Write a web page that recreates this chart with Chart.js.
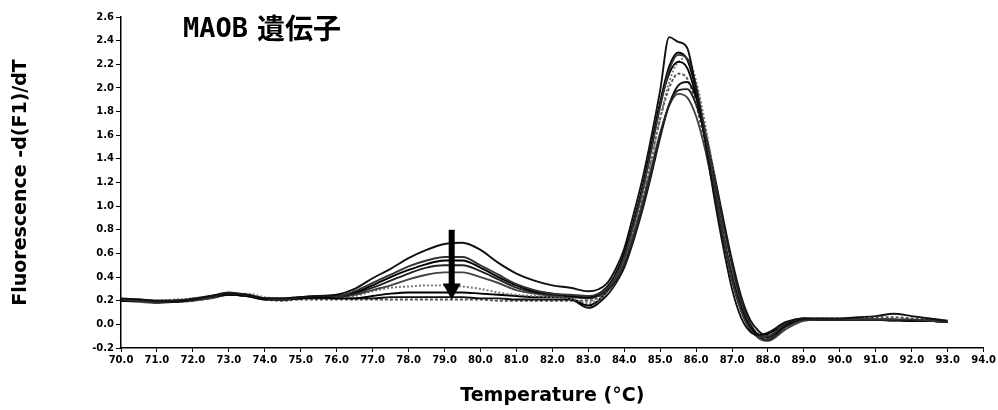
<!DOCTYPE html>
<html>
<head>
<meta charset="utf-8">
<script src="https://cdn.jsdelivr.net/npm/chart.js@4.4.1/dist/chart.umd.min.js"></script>
<style>
  html, body { margin: 0; padding: 0; background: #fff; }
</style>
</head>
<body>
<canvas id="meltChart" width="998" height="410"></canvas>
<script>
// melt curve temperatures (°C)
const temps = [70, 70.5, 71, 71.5, 72, 72.5, 73, 73.5, 74, 74.5, 75, 75.5, 76,
  76.5, 77, 77.5, 78, 78.5, 79, 79.5, 80, 80.5, 81, 81.5, 82, 82.5, 83,
  83.5, 83.75, 84, 84.25, 84.5, 84.75, 85, 85.25, 85.5, 85.75, 86, 86.25, 86.5, 86.75,
  87, 87.25, 87.5, 87.75, 88,
  88.5, 89, 89.5, 90, 90.5, 91, 91.5, 92, 92.5, 93];

// -d(F1)/dT for each sample
const sample1 = [0.22,0.21,0.20,0.20,0.21,0.24,0.26,0.25,0.22,0.22,0.23,0.24,0.25,
  0.30,0.39,0.47,0.56,0.63,0.68,0.69,0.63,0.52,0.43,0.37,0.33,0.31,0.28,
  0.34,0.46,0.64,0.92,1.22,1.58,1.98,2.43,2.39,2.34,1.98,1.55,1.08,0.66,0.30,0.06,-0.06,-0.09,-0.07,
  0.02,0.05,0.05,0.05,0.06,0.07,0.09,0.07,0.05,0.03];
const sample2 = [0.21,0.20,0.19,0.20,0.21,0.23,0.26,0.25,0.22,0.21,0.23,0.24,0.24,
  0.28,0.35,0.42,0.49,0.54,0.57,0.57,0.50,0.42,0.34,0.29,0.26,0.25,0.24,
  0.30,0.40,0.57,0.83,1.12,1.47,1.84,2.15,2.28,2.25,2.02,1.62,1.18,0.76,0.38,0.12,-0.04,-0.10,-0.10,
  0.01,0.05,0.04,0.04,0.04,0.04,0.04,0.04,0.03,0.02];
const sample3 = [0.20,0.20,0.19,0.19,0.21,0.23,0.25,0.24,0.21,0.21,0.22,0.23,0.24,
  0.27,0.33,0.40,0.46,0.51,0.54,0.54,0.48,0.40,0.33,0.28,0.26,0.24,0.23,
  0.31,0.42,0.60,0.86,1.15,1.50,1.86,2.12,2.22,2.17,1.93,1.58,1.16,0.76,0.40,0.14,-0.02,-0.09,-0.11,
  0.00,0.05,0.04,0.04,0.04,0.04,0.04,0.03,0.03,0.02];
const sample4 = [0.21,0.21,0.20,0.20,0.22,0.24,0.27,0.25,0.22,0.22,0.23,0.23,0.23,
  0.26,0.31,0.37,0.43,0.48,0.50,0.50,0.45,0.38,0.31,0.27,0.25,0.24,0.22,
  0.28,0.36,0.50,0.72,0.98,1.28,1.60,1.86,1.98,1.99,1.86,1.60,1.24,0.86,0.50,0.20,0.01,-0.10,-0.13,
  -0.02,0.04,0.04,0.04,0.04,0.04,0.03,0.03,0.03,0.02];
const sample5 = [0.20,0.19,0.18,0.19,0.20,0.22,0.25,0.24,0.21,0.21,0.22,0.23,0.23,
  0.25,0.29,0.33,0.38,0.42,0.44,0.44,0.40,0.35,0.29,0.26,0.24,0.23,0.22,
  0.29,0.38,0.53,0.76,1.02,1.32,1.62,1.85,1.95,1.92,1.76,1.48,1.12,0.76,0.42,0.16,-0.02,-0.12,-0.14,
  -0.04,0.03,0.04,0.04,0.04,0.04,0.04,0.03,0.03,0.02];
const sample6 = [0.22,0.21,0.20,0.21,0.22,0.24,0.26,0.26,0.23,0.22,0.23,0.24,0.23,
  0.24,0.28,0.31,0.32,0.33,0.33,0.32,0.30,0.27,0.25,0.24,0.23,0.22,0.18,
  0.26,0.36,0.52,0.76,1.05,1.38,1.74,2.05,2.22,2.25,2.06,1.70,1.26,0.84,0.46,0.18,0.00,-0.08,-0.10,
  0.01,0.05,0.05,0.04,0.04,0.04,0.04,0.04,0.03,0.02];
const sample7 = [0.21,0.20,0.19,0.20,0.21,0.23,0.25,0.24,0.22,0.21,0.22,0.23,0.22,
  0.22,0.24,0.26,0.27,0.27,0.27,0.27,0.26,0.25,0.24,0.23,0.23,0.22,0.16,
  0.27,0.40,0.58,0.84,1.14,1.50,1.88,2.18,2.30,2.24,1.98,1.60,1.16,0.74,0.38,0.12,-0.04,-0.10,-0.08,
  0.00,0.04,0.04,0.04,0.04,0.04,0.04,0.03,0.03,0.02];
const sample8 = [0.20,0.20,0.19,0.20,0.21,0.23,0.26,0.25,0.22,0.21,0.22,0.22,0.22,
  0.22,0.22,0.23,0.23,0.23,0.23,0.23,0.22,0.22,0.21,0.21,0.21,0.21,0.14,
  0.24,0.34,0.48,0.70,0.96,1.26,1.58,1.86,2.02,2.05,1.92,1.64,1.28,0.90,0.54,0.24,0.04,-0.06,-0.10,
  -0.02,0.04,0.04,0.04,0.04,0.04,0.04,0.04,0.03,0.02];
const sample9 = [0.21,0.20,0.19,0.19,0.20,0.22,0.25,0.24,0.21,0.20,0.21,0.21,0.21,
  0.21,0.21,0.21,0.21,0.21,0.21,0.21,0.21,0.20,0.20,0.20,0.20,0.20,0.20,
  0.28,0.38,0.54,0.78,1.06,1.40,1.74,2.00,2.12,2.08,1.86,1.52,1.12,0.74,0.40,0.14,-0.03,-0.11,-0.12,
  -0.01,0.04,0.05,0.05,0.05,0.06,0.06,0.05,0.04,0.02];

const samples = [sample1, sample2, sample3, sample4, sample5, sample6, sample7, sample8, sample9];
const lineColors = ['#111', '#333', '#000', '#222', '#444', '#777', '#000', '#111', '#555'];
const lineDashes = [[], [], [], [], [], [2, 2], [], [], [3, 2]];

const xTicks = [70, 71, 72, 73, 74, 75, 76, 77, 78, 79, 80, 81, 82, 83, 84, 85, 86, 87, 88, 89, 90, 91, 92, 93, 94];
const yTicks = [-0.2, 0, 0.2, 0.4, 0.6, 0.8, 1.0, 1.2, 1.4, 1.6, 1.8, 2.0, 2.2, 2.4, 2.6];

// downward arrow over the 79 °C shoulder
const arrowAt = 79.2, arrowFrom = 0.80, arrowTo = 0.21;

Chart.defaults.font.family = 'DejaVu Sans';
Chart.defaults.color = '#000';

const arrowPlugin = {
  id: 'arrow',
  afterDatasetsDraw(chart) {
    const { ctx, scales: { x, y } } = chart;
    const px = x.getPixelForValue(arrowAt);
    const top = y.getPixelForValue(arrowFrom);
    const tip = y.getPixelForValue(arrowTo);
    const headH = 16;
    ctx.save();
    ctx.fillStyle = '#000';
    ctx.fillRect(px - 3, top, 6, tip - headH - top + 1);
    ctx.beginPath();
    ctx.moveTo(px - 9, tip - headH);
    ctx.lineTo(px + 9, tip - headH);
    ctx.lineTo(px, tip);
    ctx.closePath();
    ctx.fill();
    ctx.restore();
  }
};

const headingPlugin = {
  id: 'heading',
  afterDraw(chart) {
    const ctx = chart.ctx;
    ctx.save();
    ctx.fillStyle = '#000';
    ctx.textBaseline = 'alphabetic';
    ctx.font = 'bold 27px "DejaVu Sans Mono"';
    ctx.fillText('MAOB', 183, 37);
    ctx.font = 'bold 28px "Noto Sans CJK JP"';
    ctx.fillText('遺伝子', 257, 39);
    ctx.restore();
  }
};

new Chart(document.getElementById('meltChart'), {
  type: 'line',
  data: {
    datasets: samples.map((s, i) => ({
      data: s.map((v, j) => ({ x: temps[j], y: v })),
      borderColor: lineColors[i],
      borderDash: lineDashes[i],
      borderWidth: 1.9,
      pointRadius: 0,
      fill: false,
      cubicInterpolationMode: 'monotone'
    }))
  },
  options: {
    responsive: false,
    animation: false,
    devicePixelRatio: 1,
    layout: { padding: { left: 0, top: 17, right: 14, bottom: 0 } },
    plugins: { legend: { display: false }, tooltip: { enabled: false } },
    scales: {
      x: {
        type: 'linear',
        min: 70,
        max: 94,
        afterFit: s => { s.height = 62; },
        afterBuildTicks: s => { s.ticks = xTicks.map(v => ({ value: v })); },
        grid: { drawOnChartArea: false, color: '#000', tickLength: 4 },
        border: { color: '#000', width: 1.5 },
        ticks: {
          maxRotation: 0,
          autoSkip: false,
          padding: 2,
          font: { size: 10, weight: 'bold' },
          callback: v => Number(v).toFixed(1)
        },
        title: {
          display: true,
          text: 'Temperature (°C)',
          font: { size: 19, weight: 'bold' },
          padding: { top: 0, bottom: 3 }
        }
      },
      y: {
        min: -0.2,
        max: 2.6,
        afterFit: s => { s.width = 121; },
        afterBuildTicks: s => { s.ticks = yTicks.map(v => ({ value: v })); },
        grid: { drawOnChartArea: false, color: '#000', tickLength: 5 },
        border: { color: '#000', width: 1.5 },
        ticks: {
          padding: 2,
          font: { size: 10, weight: 'bold' },
          callback: v => Number(v).toFixed(1)
        },
        title: {
          display: true,
          text: 'Fluorescence -d(F1)/dT',
          font: { size: 19, weight: 'bold' },
          padding: { top: 10, bottom: 0 }
        }
      }
    }
  },
  plugins: [arrowPlugin, headingPlugin]
});
</script>
</body>
</html>
